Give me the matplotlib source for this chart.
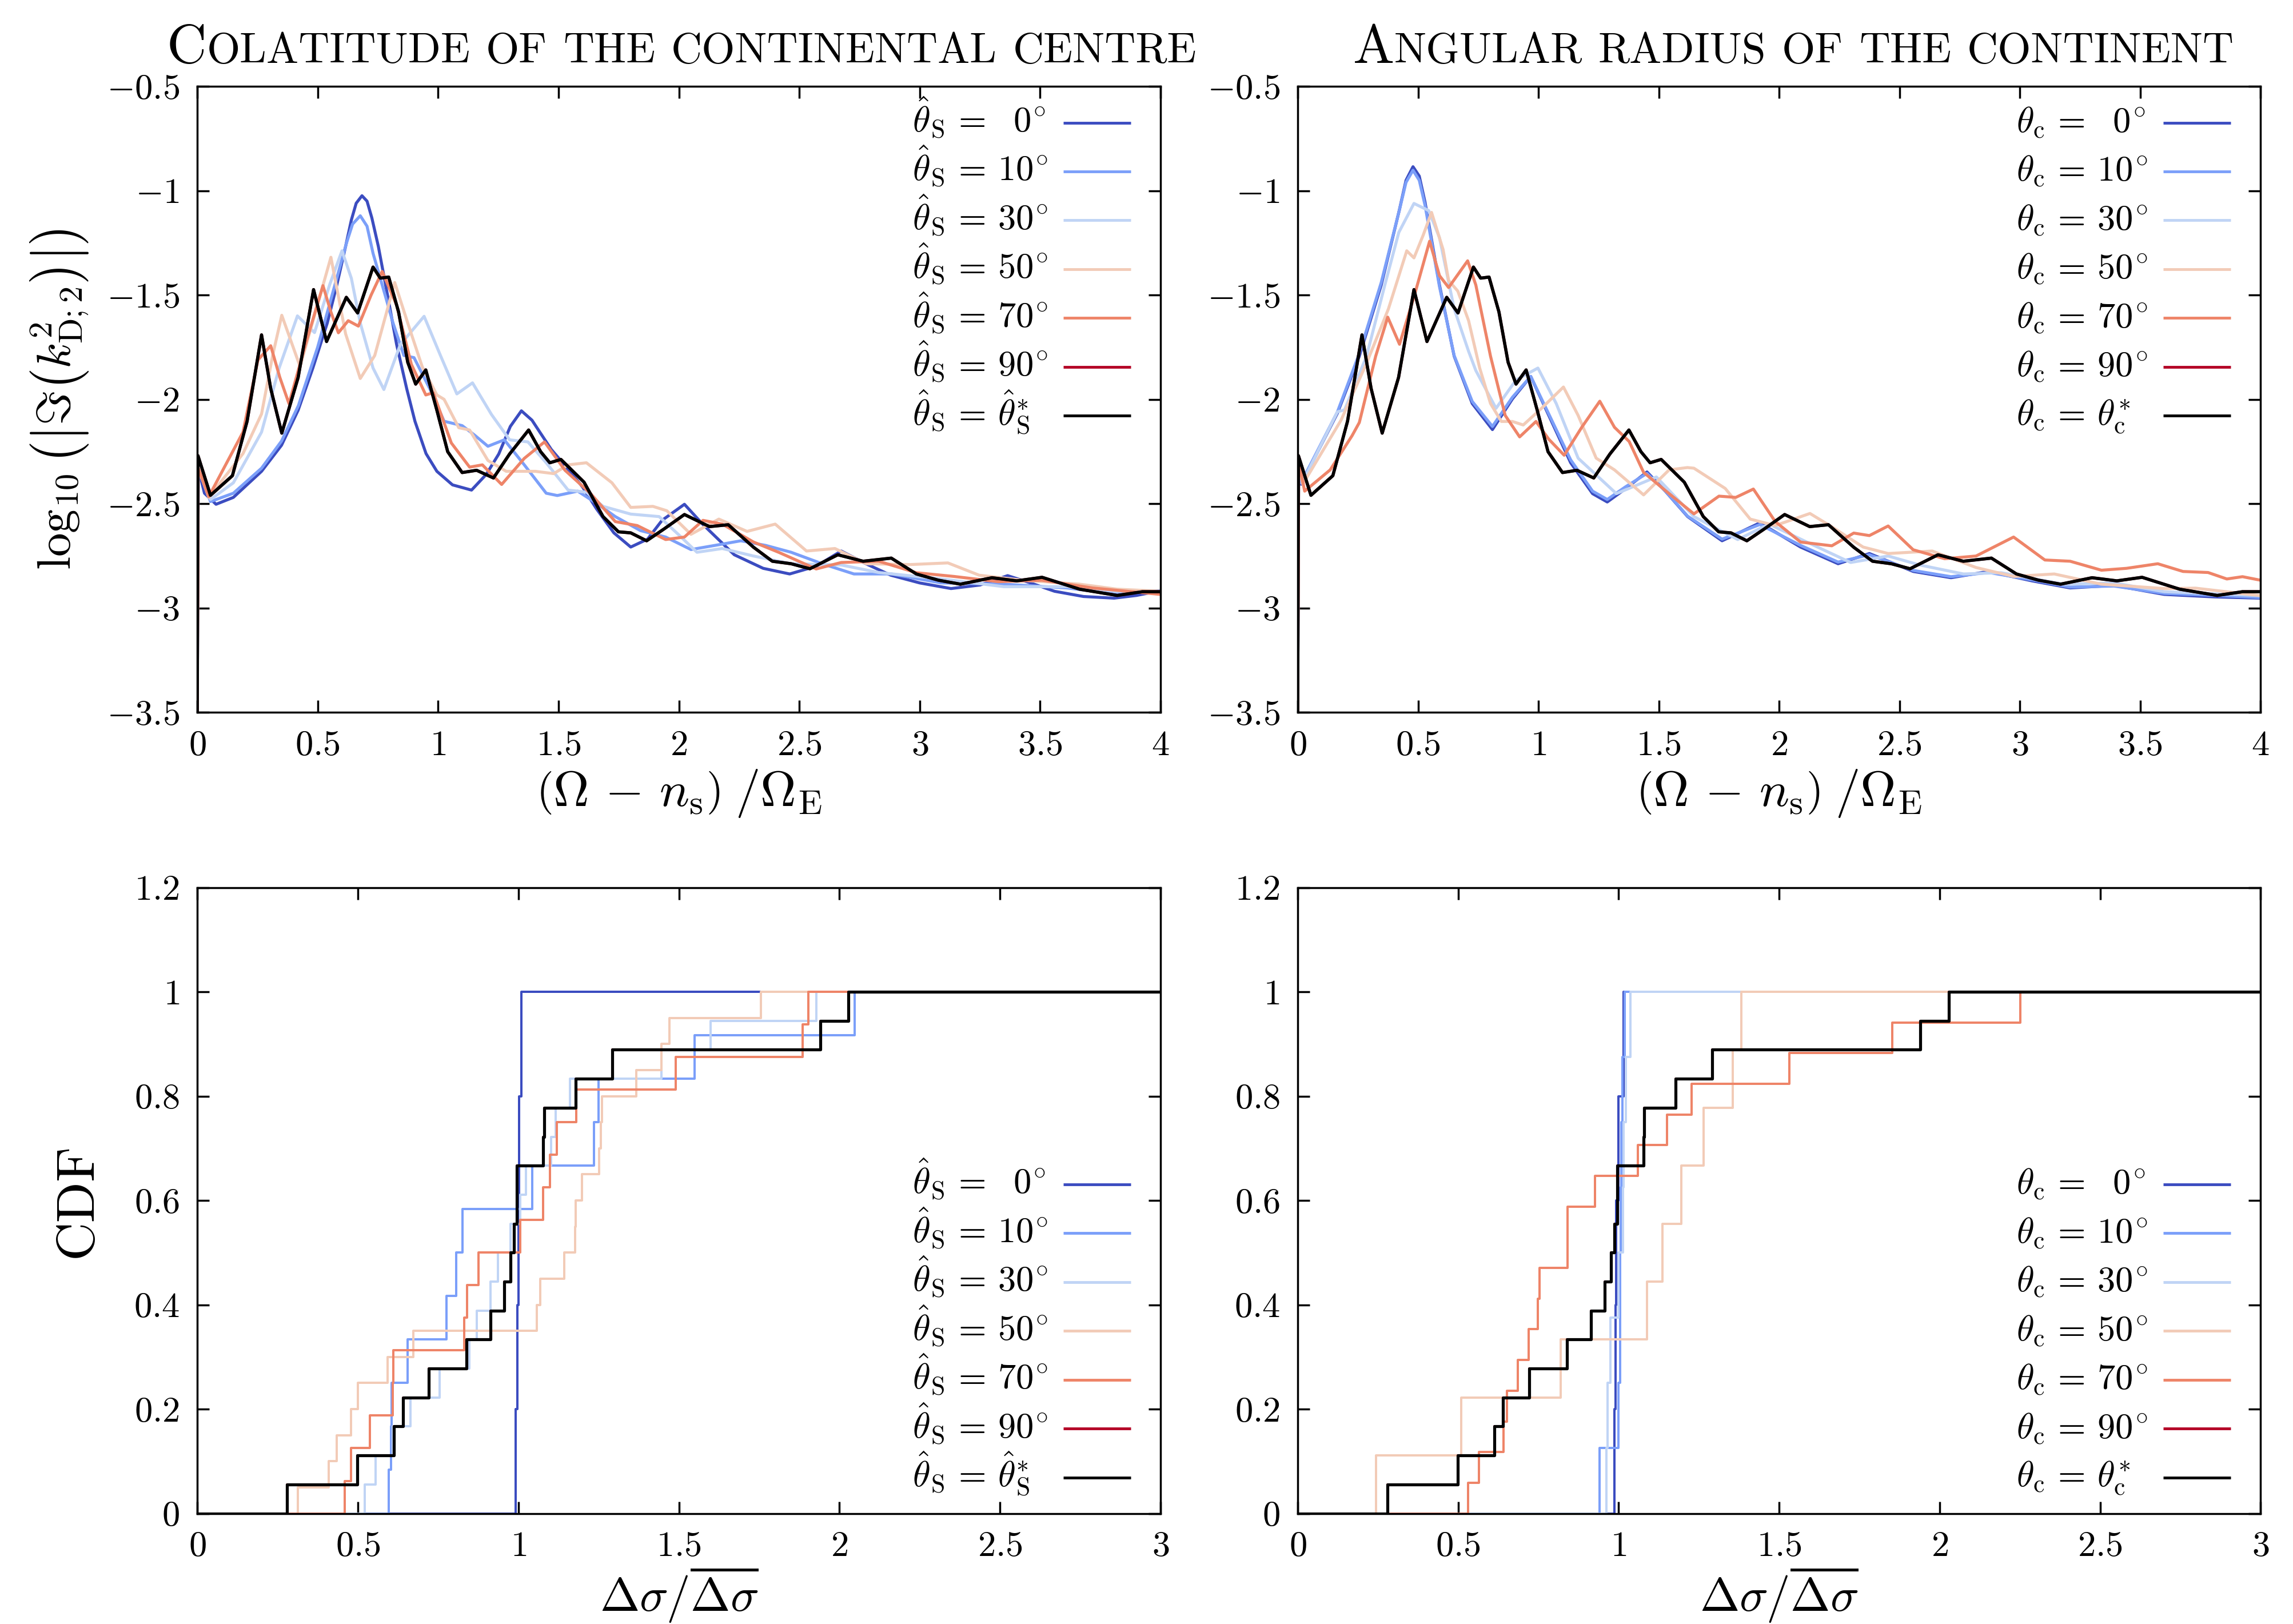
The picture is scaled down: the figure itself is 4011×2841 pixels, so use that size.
import numpy as np
import matplotlib
matplotlib.use("Agg")
import matplotlib.pyplot as plt
from matplotlib.ticker import FuncFormatter, MultipleLocator
from matplotlib.offsetbox import TextArea, HPacker, VPacker, DrawingArea, AnchoredOffsetbox
from matplotlib.lines import Line2D
from matplotlib.text import Text

plt.rcParams["mathtext.fontset"] = "cm"
plt.rcParams["font.family"] = ["cmr10", "DejaVu Serif"]
plt.rcParams["axes.unicode_minus"] = False

# ---------------- data: spectra (top row) ----------------
# colatitude of the continental centre (top left)
tl_x_00 = [0, 0.004, 0.03, 0.078, 0.15, 0.267, 0.35, 0.419, 0.48, 0.54, 0.58, 0.616, 0.64, 0.66, 0.684, 0.705, 0.725, 0.752, 0.79, 0.828, 0.87, 0.904, 0.95, 0.995, 1.06, 1.139, 1.2, 1.252, 1.3, 1.346, 1.39, 1.423, 1.47, 1.527, 1.6, 1.658, 1.73, 1.80, 1.87, 1.93, 2.023, 2.1, 2.23, 2.35, 2.46, 2.57, 2.674, 2.78, 2.88, 3.0, 3.13, 3.25, 3.365, 3.46, 3.56, 3.68, 3.807, 3.9, 4.0]
tl_y_00 = [-3.5, -2.33, -2.45, -2.503, -2.47, -2.345, -2.22, -2.052, -1.85, -1.634, -1.45, -1.267, -1.14, -1.06, -1.024, -1.05, -1.13, -1.267, -1.5, -1.738, -1.95, -2.105, -2.26, -2.345, -2.41, -2.435, -2.36, -2.262, -2.13, -2.055, -2.1, -2.158, -2.24, -2.317, -2.42, -2.525, -2.64, -2.708, -2.67, -2.58, -2.503, -2.6, -2.745, -2.81, -2.837, -2.8, -2.727, -2.79, -2.843, -2.88, -2.907, -2.89, -2.845, -2.88, -2.92, -2.945, -2.953, -2.94, -2.917]
tl_x_10 = [0, 0.004, 0.055, 0.15, 0.267, 0.35, 0.42, 0.5, 0.56, 0.62, 0.645, 0.677, 0.705, 0.73, 0.78, 0.813, 0.858, 0.9, 0.965, 1.025, 1.1, 1.15, 1.207, 1.275, 1.358, 1.449, 1.495, 1.58, 1.66, 1.736, 1.84, 1.945, 2.05, 2.15, 2.257, 2.36, 2.466, 2.6, 2.727, 2.882, 3.09, 3.35, 3.612, 3.82, 4.0]
tl_y_10 = [-3.5, -2.33, -2.49, -2.45, -2.33, -2.2, -2.03, -1.75, -1.5, -1.25, -1.16, -1.12, -1.17, -1.3, -1.5, -1.634, -1.79, -1.8, -1.948, -2.105, -2.126, -2.17, -2.225, -2.194, -2.314, -2.45, -2.461, -2.44, -2.5, -2.562, -2.629, -2.66, -2.72, -2.7, -2.678, -2.7, -2.733, -2.79, -2.837, -2.837, -2.88, -2.886, -2.904, -2.935, -2.917]
tl_x_30 = [0, 0.004, 0.055, 0.15, 0.267, 0.34, 0.416, 0.487, 0.55, 0.601, 0.64, 0.677, 0.73, 0.775, 0.843, 0.942, 1.01, 1.078, 1.143, 1.222, 1.297, 1.373, 1.449, 1.54, 1.616, 1.685, 1.8, 1.918, 2.0, 2.075, 2.18, 2.31, 2.466, 2.674, 2.83, 3.09, 3.35, 3.612, 3.82, 4.0]
tl_y_30 = [-3.5, -2.33, -2.48, -2.4, -2.157, -1.85, -1.6, -1.68, -1.45, -1.288, -1.42, -1.634, -1.85, -1.953, -1.738, -1.602, -1.79, -1.974, -1.921, -2.073, -2.194, -2.204, -2.304, -2.435, -2.445, -2.513, -2.55, -2.562, -2.65, -2.733, -2.715, -2.751, -2.788, -2.794, -2.83, -2.861, -2.898, -2.898, -2.92, -2.92]
tl_x_50 = [0, 0.004, 0.048, 0.19, 0.267, 0.313, 0.351, 0.427, 0.555, 0.616, 0.677, 0.737, 0.82, 0.874, 0.934, 0.995, 1.025, 1.086, 1.131, 1.207, 1.283, 1.404, 1.48, 1.54, 1.616, 1.722, 1.8, 1.892, 1.95, 2.05, 2.166, 2.283, 2.4, 2.53, 2.648, 2.778, 2.96, 3.117, 3.247, 3.43, 3.664, 3.82, 4.0]
tl_y_50 = [-3.5, -2.33, -2.47, -2.26, -2.07, -1.79, -1.597, -1.843, -1.319, -1.686, -1.9, -1.79, -1.44, -1.634, -1.843, -1.979, -2.0, -2.136, -2.147, -2.293, -2.345, -2.345, -2.356, -2.314, -2.304, -2.4, -2.518, -2.513, -2.534, -2.647, -2.574, -2.633, -2.598, -2.727, -2.715, -2.788, -2.792, -2.784, -2.843, -2.867, -2.886, -2.91, -2.92]
tl_x_70 = [0, 0.004, 0.048, 0.19, 0.252, 0.305, 0.343, 0.381, 0.449, 0.522, 0.555, 0.586, 0.627, 0.669, 0.722, 0.768, 0.828, 0.889, 0.949, 0.98, 1.055, 1.131, 1.184, 1.264, 1.358, 1.442, 1.527, 1.632, 1.736, 1.827, 1.945, 2.023, 2.1, 2.18, 2.31, 2.414, 2.57, 2.674, 2.83, 2.986, 3.143, 3.326, 3.508, 3.716, 4.0]
tl_y_70 = [-3.5, -2.33, -2.466, -2.157, -1.811, -1.743, -1.895, -2.021, -1.738, -1.455, -1.581, -1.681, -1.623, -1.649, -1.5, -1.387, -1.549, -1.832, -1.979, -1.968, -2.209, -2.325, -2.314, -2.408, -2.283, -2.204, -2.34, -2.45, -2.586, -2.605, -2.672, -2.66, -2.58, -2.598, -2.684, -2.733, -2.813, -2.782, -2.776, -2.831, -2.849, -2.874, -2.867, -2.904, -2.935]
# reference case (same in both top panels); the 90 degree case lies under it
ref_x = [0, 0.003, 0.055, 0.146, 0.207, 0.267, 0.305, 0.351, 0.419, 0.483, 0.537, 0.619, 0.666, 0.73, 0.76, 0.795, 0.836, 0.874, 0.907, 0.949, 0.995, 1.04, 1.1, 1.16, 1.23, 1.297, 1.376, 1.426, 1.464, 1.51, 1.606, 1.685, 1.749, 1.8, 1.866, 1.94, 2.023, 2.127, 2.205, 2.31, 2.388, 2.466, 2.544, 2.66, 2.765, 2.882, 2.986, 3.078, 3.169, 3.3, 3.403, 3.508, 3.664, 3.82, 3.925, 4.0]
ref_y = [-3.5, -2.27, -2.46, -2.366, -2.105, -1.691, -1.948, -2.162, -1.895, -1.474, -1.723, -1.511, -1.586, -1.366, -1.419, -1.414, -1.581, -1.822, -1.927, -1.859, -2.052, -2.251, -2.351, -2.34, -2.377, -2.262, -2.147, -2.251, -2.304, -2.288, -2.397, -2.562, -2.635, -2.64, -2.678, -2.62, -2.552, -2.61, -2.601, -2.709, -2.776, -2.788, -2.812, -2.745, -2.776, -2.761, -2.837, -2.867, -2.886, -2.855, -2.87, -2.853, -2.91, -2.94, -2.922, -2.922]

# angular radius of the continent (top right)
tr_x_00 = [0, 0.004, 0.014, 0.165, 0.256, 0.347, 0.423, 0.45, 0.479, 0.505, 0.529, 0.589, 0.65, 0.725, 0.809, 0.892, 0.968, 1.043, 1.134, 1.225, 1.286, 1.361, 1.451, 1.528, 1.62, 1.763, 1.92, 2.089, 2.245, 2.375, 2.557, 2.714, 2.87, 3.05, 3.209, 3.391, 3.6, 3.808, 4.0]
tr_y_00 = [-3.5, -2.3, -2.407, -2.066, -1.793, -1.452, -1.089, -0.95, -0.885, -0.93, -1.055, -1.452, -1.793, -2.02, -2.145, -1.998, -1.89, -2.077, -2.304, -2.452, -2.492, -2.429, -2.348, -2.441, -2.562, -2.678, -2.592, -2.708, -2.788, -2.739, -2.825, -2.855, -2.825, -2.87, -2.904, -2.892, -2.935, -2.947, -2.953]
tr_x_10 = [0, 0.004, 0.014, 0.165, 0.256, 0.347, 0.423, 0.45, 0.479, 0.505, 0.529, 0.589, 0.65, 0.725, 0.809, 0.892, 0.968, 1.043, 1.134, 1.225, 1.286, 1.361, 1.451, 1.528, 1.62, 1.763, 1.92, 2.089, 2.245, 2.375, 2.557, 2.714, 2.87, 3.05, 3.209, 3.391, 3.6, 3.808, 4.0]
tr_y_10 = [-3.5, -2.3, -2.4, -2.06, -1.78, -1.44, -1.09, -0.96, -0.902, -0.95, -1.07, -1.46, -1.79, -2.01, -2.13, -1.99, -1.89, -2.07, -2.29, -2.44, -2.48, -2.42, -2.355, -2.44, -2.56, -2.67, -2.6, -2.7, -2.78, -2.745, -2.82, -2.85, -2.83, -2.865, -2.9, -2.895, -2.93, -2.94, -2.95]
tr_x_30 = [0, 0.004, 0.021, 0.165, 0.195, 0.286, 0.362, 0.42, 0.483, 0.544, 0.589, 0.65, 0.71, 0.74, 0.824, 0.907, 0.998, 1.074, 1.165, 1.324, 1.49, 1.646, 1.828, 1.958, 2.115, 2.297, 2.453, 2.584, 2.766, 2.922, 3.183, 3.391, 3.6, 4.0]
tr_y_30 = [-3.5, -2.3, -2.395, -2.06, -2.05, -1.793, -1.452, -1.2, -1.061, -1.095, -1.225, -1.566, -1.77, -1.862, -2.043, -1.907, -1.85, -2.02, -2.282, -2.452, -2.372, -2.562, -2.672, -2.598, -2.684, -2.782, -2.751, -2.794, -2.837, -2.831, -2.886, -2.88, -2.922, -2.941]
tr_x_50 = [0, 0.004, 0.021, 0.18, 0.286, 0.377, 0.453, 0.483, 0.521, 0.556, 0.604, 0.627, 0.665, 0.71, 0.756, 0.801, 0.846, 0.892, 0.937, 1.013, 1.104, 1.165, 1.24, 1.316, 1.437, 1.543, 1.619, 1.646, 1.776, 1.88, 1.984, 2.128, 2.219, 2.349, 2.453, 2.636, 2.818, 2.974, 3.143, 3.339, 3.6, 3.73, 4.0]
tr_y_50 = [-3.5, -2.3, -2.407, -2.1, -1.827, -1.566, -1.288, -1.322, -1.214, -1.104, -1.282, -1.43, -1.481, -1.623, -1.85, -2.02, -2.106, -2.106, -2.123, -2.043, -1.941, -2.077, -2.282, -2.338, -2.458, -2.338, -2.327, -2.33, -2.427, -2.574, -2.605, -2.547, -2.611, -2.708, -2.739, -2.727, -2.806, -2.849, -2.837, -2.886, -2.907, -2.905, -2.941]
tr_x_70 = [0, 0.004, 0.029, 0.135, 0.226, 0.256, 0.324, 0.374, 0.423, 0.483, 0.548, 0.589, 0.627, 0.706, 0.74, 0.801, 0.862, 0.922, 0.99, 1.043, 1.107, 1.18, 1.255, 1.316, 1.377, 1.437, 1.543, 1.646, 1.75, 1.82, 1.893, 1.984, 2.089, 2.219, 2.31, 2.375, 2.453, 2.557, 2.688, 2.818, 2.974, 3.104, 3.209, 3.339, 3.443, 3.573, 3.678, 3.782, 3.86, 3.925, 4.0]
tr_y_70 = [-3.5, -2.3, -2.44, -2.338, -2.174, -2.111, -1.793, -1.606, -1.736, -1.509, -1.242, -1.407, -1.464, -1.336, -1.452, -1.793, -2.077, -2.18, -2.106, -2.191, -2.268, -2.134, -2.009, -2.134, -2.202, -2.35, -2.452, -2.549, -2.464, -2.47, -2.43, -2.586, -2.684, -2.702, -2.641, -2.653, -2.607, -2.721, -2.764, -2.751, -2.66, -2.77, -2.776, -2.819, -2.81, -2.788, -2.825, -2.83, -2.861, -2.85, -2.867]

# ---------------- data: normalised spacings (bottom row), one value per sample ----------------
bl_s_00 = [0.991, 0.997, 1.0, 1.003, 1.009]
bl_s_10 = [0.597, 0.604, 0.605, 0.656, 0.777, 0.807, 0.826, 1.043, 1.235, 1.249, 1.549, 2.047]
bl_s_30 = [0.522, 0.556, 0.608, 0.664, 0.755, 0.847, 0.870, 0.913, 0.937, 0.976, 1.006, 1.024, 1.102, 1.117, 1.161, 1.445, 1.599, 1.928]
bl_s_50 = [0.313, 0.409, 0.435, 0.478, 0.5, 0.593, 0.673, 1.058, 1.068, 1.143, 1.176, 1.178, 1.198, 1.252, 1.257, 1.26, 1.367, 1.445, 1.47, 1.755]
bl_s_70 = [0.46, 0.478, 0.537, 0.608, 0.611, 0.832, 0.841, 0.876, 1.006, 1.077, 1.099, 1.12, 1.18, 1.49, 1.886, 1.903]
ref_s = [0.28, 0.499, 0.612, 0.64, 0.721, 0.839, 0.914, 0.956, 0.976, 0.987, 0.995, 0.996, 1.077, 1.08, 1.178, 1.292, 1.94, 2.028]

br_s_00 = [0.986, 0.99, 0.993, 1.0, 1.015]
br_s_10 = [0.94, 1.0, 1.004, 1.005, 1.006, 1.008, 1.011, 1.018]
br_s_30 = [0.962, 0.965, 0.974, 1.0, 1.014, 1.016, 1.023, 1.036]
br_s_50 = [0.244, 0.509, 0.819, 1.089, 1.137, 1.196, 1.265, 1.355, 1.383]
br_s_70 = [0.531, 0.565, 0.642, 0.652, 0.686, 0.719, 0.748, 0.753, 0.841, 0.841, 0.927, 1.06, 1.151, 1.228, 1.531, 1.852, 2.251]

angles = ["0", "10", "30", "50", "70", "90"]
colors = [plt.cm.coolwarm(v) for v in np.linspace(0, 1, 6)] + ["black"]


def make_labels(sym, star):
    labs = []
    for a in angles:
        pad = r"\enspace" if len(a) == 1 else ""
        labs.append(r"$%s\,=\,%s%s^{\!\circ}$" % (sym, pad, a))
    labs.append(r"$%s\,=\,%s$" % (sym, star))
    return labs


S_LAB = make_labels(r"\hat{\theta}_\mathrm{S}", r"\hat{\theta}_\mathrm{S}^{*}")
C_LAB = make_labels(r"\theta_\mathrm{c}", r"\theta_\mathrm{c}^{*}")


def ecdf_xy(samples, xmax):
    s = sorted(samples)
    n = len(s)
    x = [0.0] + s + [xmax]
    y = [0.0] + [(i + 1) / n for i in range(n)] + [1.0]
    return x, y


def tick_fmt(v, pos):
    return "$%g$" % round(v, 2)


def style_axes(ax):
    ax.tick_params(direction="in", top=True, right=True, length=6, width=1.0,
                   labelsize=18, pad=9)
    for sp in ax.spines.values():
        sp.set_linewidth(1.0)
    ax.xaxis.set_major_formatter(FuncFormatter(tick_fmt))
    ax.yaxis.set_major_formatter(FuncFormatter(tick_fmt))


def smallcaps_title(ax, text, xpos, big=27.8, small=21.6):
    words = []
    for w in text.split():
        runs = []
        for ch in w:
            sz = big if ch.isupper() else small
            if runs and runs[-1][1] == sz:
                runs[-1][0] += ch.upper()
            else:
                runs.append([ch.upper(), sz])
        boxes = [TextArea(s, textprops=dict(fontsize=sz, family="cmr10")) for s, sz in runs]
        words.append(HPacker(children=boxes, align="baseline", pad=0, sep=0))
    pack = HPacker(children=words, align="baseline", pad=0, sep=8)
    box = AnchoredOffsetbox(loc="lower center", child=pack, pad=0, borderpad=0,
                            frameon=False, bbox_to_anchor=(xpos, 1.02),
                            bbox_transform=ax.transAxes)
    ax.add_artist(box)


def add_key(ax, labels, loc, anchor, fs=18, row_h=24.6, width=110.0, handle=34.0):
    # key with a fixed row pitch: label on the left, line sample on the right
    rows = []
    for lab, c in zip(labels, colors):
        da = DrawingArea(width, row_h, 0, 0)
        mid = row_h / 2.0
        da.add_artist(Text(0, mid - 0.26 * fs, lab, fontsize=fs, ha="left", va="baseline"))
        da.add_artist(Line2D([width - handle, width], [mid, mid], color=c, lw=1.4,
                             solid_capstyle="butt"))
        rows.append(da)
    pack = VPacker(children=rows, pad=0, sep=0, align="right")
    box = AnchoredOffsetbox(loc=loc, child=pack, pad=0, borderpad=0, frameon=False,
                            bbox_to_anchor=anchor, bbox_transform=ax.transAxes)
    ax.add_artist(box)


fig = plt.figure(figsize=(16.048, 11.364), dpi=250)
ax_tl = fig.add_axes([0.0860, 0.5614, 0.4200, 0.3854])
ax_tr = fig.add_axes([0.5658, 0.5614, 0.4198, 0.3854])
ax_bl = fig.add_axes([0.0860, 0.0681, 0.4200, 0.3854])
ax_br = fig.add_axes([0.5658, 0.0681, 0.4198, 0.3854])

# top panels
tl_series = [(tl_x_00, tl_y_00), (tl_x_10, tl_y_10), (tl_x_30, tl_y_30),
             (tl_x_50, tl_y_50), (tl_x_70, tl_y_70), (ref_x, ref_y)]
tr_series = [(tr_x_00, tr_y_00), (tr_x_10, tr_y_10), (tr_x_30, tr_y_30),
             (tr_x_50, tr_y_50), (tr_x_70, tr_y_70), (ref_x, ref_y)]
for ax, series in [(ax_tl, tl_series), (ax_tr, tr_series)]:
    for (x, y), c in zip(series, colors):
        ax.plot(x, y, color=c, lw=1.5, solid_joinstyle="round")
    ax.plot(ref_x, ref_y, color="black", lw=1.6, solid_joinstyle="round")
    ax.set_xlim(0, 4)
    ax.set_ylim(-3.5, -0.5)
    ax.xaxis.set_major_locator(MultipleLocator(0.5))
    ax.yaxis.set_major_locator(MultipleLocator(0.5))
    style_axes(ax)
    ax.set_xlabel(r"$\left(\Omega\,-\,n_\mathrm{s}\right)\;/\Omega_\mathrm{E}$", fontsize=25, labelpad=3)

ax_tl.set_ylabel(r"$\log_{10}\left(\left|\Im\left(k^{2}_{\mathrm{D};2}\right)\right|\right)$",
                 fontsize=24, labelpad=8)

# bottom panels
bl_series = [bl_s_00, bl_s_10, bl_s_30, bl_s_50, bl_s_70, ref_s]
br_series = [br_s_00, br_s_10, br_s_30, br_s_50, br_s_70, ref_s]
for ax, series in [(ax_bl, bl_series), (ax_br, br_series)]:
    for s, c in zip(series, colors):
        x, y = ecdf_xy(s, 3.0)
        ax.step(x, y, where="post", color=c, lw=1.15)
    x, y = ecdf_xy(ref_s, 3.0)
    ax.step(x, y, where="post", color="black", lw=1.5)
    ax.set_xlim(0, 3)
    ax.set_ylim(0, 1.2)
    ax.xaxis.set_major_locator(MultipleLocator(0.5))
    ax.yaxis.set_major_locator(MultipleLocator(0.2))
    style_axes(ax)
    ax.set_xlabel(r"$\Delta\sigma/\overline{\Delta\sigma}$", fontsize=24, labelpad=1)

ax_bl.set_ylabel("CDF", fontsize=27, labelpad=16)

add_key(ax_tl, S_LAB, "upper right", (0.969, 0.981))
add_key(ax_tr, C_LAB, "upper right", (0.969, 0.981), width=108.0)
add_key(ax_bl, S_LAB, "lower right", (0.969, 0.0185))
add_key(ax_br, C_LAB, "lower right", (0.969, 0.0185), width=108.0)

smallcaps_title(ax_tl, "Colatitude of the continental centre", 0.503)
smallcaps_title(ax_tr, "Angular radius of the continent", 0.515)

fig.savefig("out.png", dpi=250)
